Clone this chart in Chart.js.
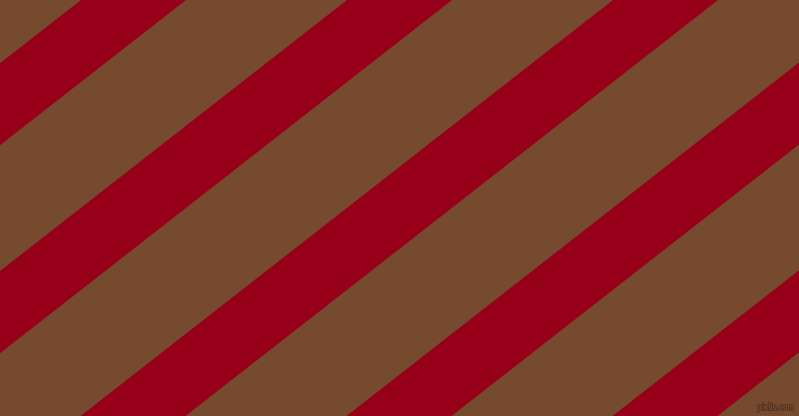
<!DOCTYPE html>
<html>
<head>
<meta charset="utf-8">
<script src="https://cdn.jsdelivr.net/npm/chart.js@4"></script>
<style>
  html, body { margin: 0; padding: 0; background: #764a2f; overflow: hidden; }
  #stripes { display: block; }
</style>
</head>
<body>
<canvas id="stripes" width="799" height="416"></canvas>
<script>
// stripe data: where each red band meets the top edge
const STRIPE_ANGLE_DEG = 38;
const redBandStarts = [81, 347, 613, 879, 1145];
const redBandWidth = 105;
const watermarkText = "pixlis.com";

const BROWN = "#764a2f";
const RED = "#970019";

const X_MIN = 0;
const X_MAX = 799;
const Y_MIN = 0;
const Y_MAX = 416;

// a band edge is a straight line through (start, 0) at the stripe angle
function edgeLine(start) {
  const t = Math.tan((STRIPE_ANGLE_DEG * Math.PI) / 180);
  const left = -400;
  const right = 1200;
  return [
    { x: left, y: (start - left) * t },
    { x: right, y: (start - right) * t },
  ];
}

function buildBandDatasets() {
  const out = [];
  redBandStarts.forEach((start) => {
    out.push({
      data: edgeLine(start),
      borderWidth: 0,
      borderColor: RED,
      backgroundColor: RED,
      pointRadius: 0,
      fill: "+1",
    });
    out.push({
      data: edgeLine(start + redBandWidth),
      borderWidth: 0,
      borderColor: RED,
      backgroundColor: RED,
      pointRadius: 0,
      fill: false,
    });
  });
  return out;
}

const backgroundPlugin = {
  id: "brownBackground",
  beforeDraw(chart) {
    const { ctx } = chart;
    ctx.save();
    ctx.fillStyle = BROWN;
    ctx.fillRect(0, 0, chart.width, chart.height);
    ctx.restore();
  },
};

const watermarkPlugin = {
  id: "watermark",
  afterDraw(chart) {
    const { ctx } = chart;
    ctx.save();
    ctx.font = "bold 9px 'DejaVu Sans'";
    ctx.textBaseline = "alphabetic";
    ctx.lineJoin = "round";
    ctx.lineWidth = 1.2;
    ctx.strokeStyle = "rgba(45, 25, 12, 0.85)";
    ctx.fillStyle = "#7d5136";
    ctx.strokeText(watermarkText, 757, 410, 37);
    ctx.fillText(watermarkText, 757, 410, 37);
    ctx.restore();
  },
};

new Chart(document.getElementById("stripes"), {
  type: "line",
  data: { datasets: buildBandDatasets() },
  options: {
    responsive: false,
    animation: false,
    devicePixelRatio: 1,
    layout: { padding: 0 },
    plugins: {
      legend: { display: false },
      tooltip: { enabled: false },
      filler: { propagate: false },
    },
    scales: {
      x: { type: "linear", min: X_MIN, max: X_MAX, display: false },
      y: { type: "linear", min: Y_MIN, max: Y_MAX, reverse: true, display: false },
    },
  },
  plugins: [backgroundPlugin, watermarkPlugin],
});
</script>
</body>
</html>
